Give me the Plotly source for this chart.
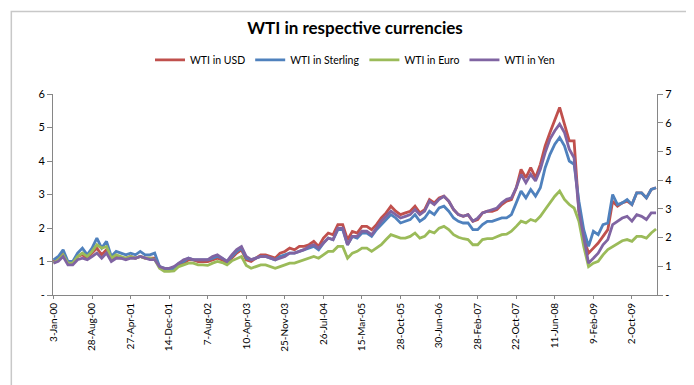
import plotly.graph_objects as go

# Tick labels (category axis, one label every 8 samples)
tick_labels = ["3-Jan-00", "28-Aug-00", "27-Apr-01", "14-Dec-01", "7-Aug-02", "10-Apr-03",
               "25-Nov-03", "26-Jul-04", "15-Mar-05", "28-Oct-05", "30-Jun-06", "28-Feb-07",
               "22-Oct-07", "11-Jun-08", "9-Feb-09", "2-Oct-09"]
samples_per_label = 8

wti_usd = [1.0, 1.1, 1.25, 0.95, 0.95, 1.15, 1.2, 1.1, 1.25, 1.4,
           1.2, 1.35, 1.05, 1.15, 1.1, 1.1, 1.15, 1.1, 1.15, 1.1,
           1.1, 1.1, 0.85, 0.75, 0.75, 0.8, 0.9, 0.95, 1.05, 1.05,
           1.0, 1.0, 1.0, 1.05, 1.1, 1.05, 0.95, 1.1, 1.25, 1.35,
           1.05, 1.0, 1.1, 1.2, 1.2, 1.15, 1.1, 1.25, 1.3, 1.4,
           1.35, 1.45, 1.45, 1.5, 1.6, 1.45, 1.7, 1.85, 1.8, 2.1,
           2.1, 1.65, 1.9, 1.85, 2.05, 2.05, 1.95, 2.1, 2.3, 2.45,
           2.65, 2.5, 2.4, 2.45, 2.5, 2.65, 2.45, 2.55, 2.85, 2.75,
           2.9, 2.95, 2.8, 2.55, 2.4, 2.35, 2.4, 2.2, 2.25, 2.45,
           2.5, 2.5, 2.55, 2.7, 2.8, 2.85, 3.2, 3.75, 3.5, 3.8,
           3.5, 3.9, 4.45, 4.85, 5.2, 5.6, 5.1, 4.6, 4.6, 2.5,
           1.7, 1.25, 1.4, 1.55, 1.75, 1.95, 2.8, 2.65, 2.75, 2.8,
           2.7, 3.05, 3.05, 2.9, 3.15, 3.2]
wti_gbp = [1.05, 1.15, 1.35, 1.0, 1.0, 1.25, 1.4, 1.2, 1.4, 1.7,
           1.4, 1.6, 1.15, 1.3, 1.25, 1.2, 1.25, 1.2, 1.3, 1.2,
           1.2, 1.25, 0.85, 0.8, 0.75, 0.8, 0.95, 1.0, 1.1, 1.05,
           1.05, 1.05, 1.05, 1.1, 1.15, 1.1, 1.0, 1.15, 1.3, 1.4,
           1.1, 1.05, 1.1, 1.15, 1.15, 1.1, 1.05, 1.15, 1.2, 1.25,
           1.25, 1.3, 1.35, 1.4, 1.45, 1.35, 1.55, 1.7, 1.65, 1.95,
           1.95, 1.5, 1.75, 1.7, 1.85, 1.85, 1.75, 1.95, 2.1, 2.25,
           2.4, 2.3, 2.15, 2.2, 2.25, 2.4, 2.2, 2.3, 2.5, 2.4,
           2.6, 2.65, 2.5, 2.3, 2.2, 2.15, 2.15, 1.95, 1.95, 2.1,
           2.2, 2.2, 2.25, 2.3, 2.3, 2.4, 2.75, 3.1, 2.9, 3.15,
           2.95, 3.2, 3.8, 4.2, 4.5, 4.7, 4.45, 4.0, 3.9, 2.8,
           1.95, 1.45, 1.9, 1.8, 2.1, 2.15, 3.0, 2.7, 2.75, 2.85,
           2.7, 3.05, 3.05, 2.9, 3.15, 3.2]

# Right axis series
wti_eur = [1.11, 1.23, 1.4, 1.11, 1.11, 1.34, 1.46, 1.34, 1.52, 1.75,
           1.63, 1.69, 1.28, 1.4, 1.34, 1.28, 1.34, 1.28, 1.34, 1.28,
           1.28, 1.23, 0.93, 0.82, 0.82, 0.84, 0.99, 1.05, 1.11, 1.11,
           1.05, 1.05, 1.03, 1.11, 1.17, 1.13, 1.05, 1.19, 1.28, 1.34,
           1.03, 0.93, 0.99, 1.05, 1.05, 0.99, 0.93, 0.99, 1.05, 1.11,
           1.11, 1.17, 1.23, 1.28, 1.34, 1.28, 1.4, 1.52, 1.52, 1.69,
           1.69, 1.28, 1.46, 1.52, 1.63, 1.63, 1.52, 1.63, 1.75, 1.93,
           2.1, 2.04, 1.98, 1.98, 2.04, 2.16, 1.98, 2.04, 2.22, 2.16,
           2.33, 2.39, 2.28, 2.1, 2.01, 1.96, 1.93, 1.75, 1.75, 1.93,
           1.96, 1.96, 2.04, 2.1, 2.12, 2.22, 2.39, 2.57, 2.51, 2.63,
           2.57, 2.74, 2.98, 3.21, 3.44, 3.62, 3.33, 3.15, 3.03, 2.57,
           1.69, 0.99, 1.11, 1.17, 1.4, 1.58, 1.69, 1.81, 1.89, 1.93,
           1.87, 2.04, 2.04, 1.98, 2.16, 2.3]
wti_jpy = [1.11, 1.17, 1.34, 1.05, 1.05, 1.23, 1.28, 1.23, 1.34, 1.46,
           1.28, 1.46, 1.17, 1.28, 1.28, 1.23, 1.28, 1.28, 1.34, 1.28,
           1.23, 1.23, 0.99, 0.93, 0.93, 0.99, 1.11, 1.23, 1.28, 1.23,
           1.23, 1.23, 1.23, 1.34, 1.4, 1.28, 1.17, 1.4, 1.58, 1.69,
           1.34, 1.23, 1.28, 1.34, 1.34, 1.28, 1.23, 1.28, 1.34, 1.46,
           1.46, 1.52, 1.58, 1.69, 1.75, 1.63, 1.81, 1.98, 1.93, 2.33,
           2.33, 1.75, 2.04, 2.04, 2.22, 2.22, 2.1, 2.33, 2.57, 2.74,
           2.92, 2.8, 2.68, 2.74, 2.8, 2.98, 2.8, 2.92, 3.27, 3.15,
           3.33, 3.44, 3.27, 2.98, 2.8, 2.74, 2.8, 2.57, 2.68, 2.86,
           2.92, 2.98, 3.03, 3.21, 3.33, 3.38, 3.73, 4.2, 3.91, 4.2,
           3.97, 4.38, 4.96, 5.43, 5.72, 5.95, 5.66, 5.08, 4.78, 2.92,
           1.98, 1.11, 1.28, 1.46, 1.75, 1.93, 2.45, 2.57, 2.68, 2.74,
           2.57, 2.8, 2.74, 2.63, 2.86, 2.86]

left_ticks = ["-", "1", "2", "3", "4", "5", "6"]
right_ticks = ["-", "1", "2", "3", "4", "5", "6", "7"]

x = list(range(len(wti_usd)))
font = "Lato, Open Sans, sans-serif"

fig = go.Figure()
series = [("WTI in USD", wti_usd, "#C0504D", "y"),
          ("WTI in Sterling", wti_gbp, "#4F81BD", "y"),
          ("WTI in Euro", wti_eur, "#9BBB59", "y2"),
          ("WTI in Yen", wti_jpy, "#8064A2", "y2")]
for name, vals, col, ax in series:
    fig.add_trace(go.Scatter(x=x, y=vals, name=name, mode="lines", yaxis=ax,
                             line=dict(color=col, width=2.8)))

axis_col = "#868686"
fig.update_layout(
    width=694, height=385,
    margin=dict(l=45, r=45, t=86, b=98),
    paper_bgcolor="white", plot_bgcolor="white",
    font=dict(family=font, size=11, color="#000000"),
    title=dict(text="WTI in respective currencies", x=0.5, xanchor="center",
               y=1 - 20 / 385, yanchor="middle",
               font=dict(family=font, size=17, weight="bold", color="#000000")),
    showlegend=True,
    legend=dict(orientation="h", x=0.5, xanchor="center", y=1.17, yanchor="middle",
                font=dict(size=10.5), itemwidth=30, bgcolor="rgba(0,0,0,0)"),
    xaxis=dict(range=[-0.1, len(x) - 0.8], showgrid=False, zeroline=False,
               tickmode="array",
               tickvals=[k * samples_per_label for k in range(len(tick_labels))],
               ticktext=tick_labels, tickangle=-90, tickfont=dict(size=10),
               showline=True, linecolor=axis_col, linewidth=1,
               ticks="outside", ticklen=3, tickcolor=axis_col),
    yaxis=dict(range=[0, 6], showgrid=False, zeroline=False,
               tickmode="array", tickvals=list(range(7)), ticktext=left_ticks,
               showline=True, linecolor=axis_col, linewidth=1,
               ticks="outside", ticklen=5, tickcolor=axis_col, tickfont=dict(size=11)),
    yaxis2=dict(range=[0, 7], overlaying="y", side="right", showgrid=False, zeroline=False,
                tickmode="array", tickvals=list(range(8)), ticktext=right_ticks,
                showline=True, linecolor=axis_col, linewidth=1,
                ticks="outside", ticklen=5, tickcolor=axis_col, tickfont=dict(size=11)),
    shapes=[dict(type="rect", xref="paper", yref="paper",
                 x0=-0.069, x1=1.068, y0=-0.46, y1=1.41,
                 line=dict(color="#c8c8c8", width=1.5), layer="below")],
)

fig.write_html("out.html")
